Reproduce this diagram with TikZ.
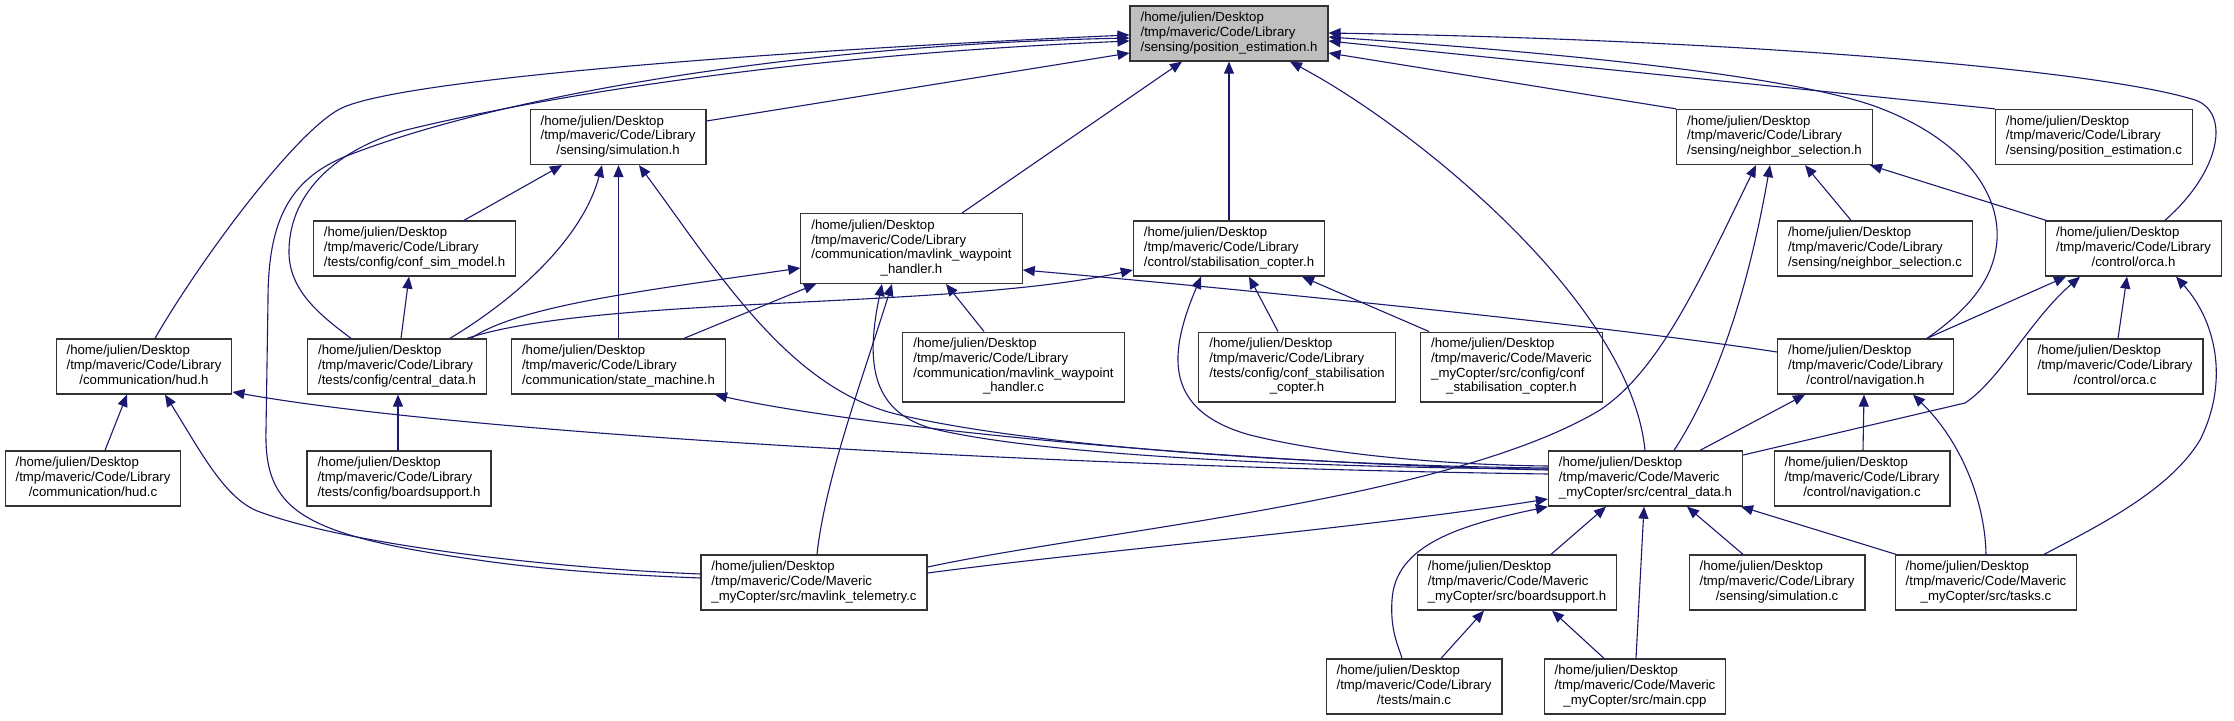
\documentclass[tikz,border=0pt]{standalone}
\usepackage{fontspec}
\setmainfont{Liberation Sans}
\usetikzlibrary{arrows.meta,calc}

\definecolor{edgeblue}{HTML}{191970}
\definecolor{topgray}{HTML}{BFBFBF}
\newcommand{\flab}[2]{\begin{tabular}{@{}l@{}}#1\\\multicolumn{1}{@{}c@{}}{#2}\end{tabular}}
\newcommand{\lib}{/home/julien/Desktop\\/tmp/maveric/Code/Library}
\newcommand{\mav}{/home/julien/Desktop\\/tmp/maveric/Code/Maveric}

\begin{document}
\begin{tikzpicture}[x=1pt,y=-1pt,>={Triangle[length=12pt,width=10pt]},
  file/.style={draw=black!80,line width=1.2pt,fill=white,inner xsep=10.5pt,inner ysep=5.5pt,
    font=\fontsize{13.2}{14.7}\selectfont},
  inc/.style={<-,draw=edgeblue,line width=1.1pt}]
 \path[use as bounding box,fill=white] (0,0) rectangle (2234,720);
 % included file
 \node[file,fill=topgray] (pe_h) at (1229,33.5) {\flab{\lib}{/sensing/position\_estimation.h}};
 % first rank
 \node[file] (sim_h) at (618,137) {\flab{\lib}{/sensing/simulation.h}};
 \node[file] (ns_h) at (1774.5,137) {\flab{\lib}{/sensing/neighbor\_selection.h}};
 \node[file] (pe_c) at (2094,137) {\flab{\lib}{/sensing/position\_estimation.c}};
 % second rank
 \node[file] (csm_h) at (414.5,248.5) {\flab{\lib}{/tests/config/conf\_sim\_model.h}};
 \node[file] (mwh_h) at (911.5,248.5) {\flab{\lib\\/communication/mavlink\_waypoint}{\_handler.h}};
 \node[file] (sc_h) at (1229,248.5) {\flab{\lib}{/control/stabilisation\_copter.h}};
 \node[file] (ns_c) at (1875,248.5) {\flab{\lib}{/sensing/neighbor\_selection.c}};
 \node[file] (orca_h) at (2133.5,248.5) {\flab{\lib}{/control/orca.h}};
 % third rank
 \node[file] (hud_h) at (144,366.5) {\flab{\lib}{/communication/hud.h}};
 \node[file] (cd_t) at (397,366.5) {\flab{\lib}{/tests/config/central\_data.h}};
 \node[file] (sm_h) at (618.5,366.5) {\flab{\lib}{/communication/state\_machine.h}};
 \node[file] (mwh_c) at (1013.5,367) {\flab{\lib\\/communication/mavlink\_waypoint}{\_handler.c}};
 \node[file] (csc_t) at (1297,367) {\flab{\lib\\/tests/config/conf\_stabilisation}{\_copter.h}};
 \node[file] (csc_m) at (1511.5,367) {\flab{\mav\\\_myCopter/src/config/conf}{\_stabilisation\_copter.h}};
 \node[file] (nav_h) at (1865.5,366.5) {\flab{\lib}{/control/navigation.h}};
 \node[file] (orca_c) at (2115,366.5) {\flab{\lib}{/control/orca.c}};
 % fourth rank
 \node[file] (hud_c) at (93,478.5) {\flab{\lib}{/communication/hud.c}};
 \node[file] (bs_t) at (399,478.5) {\flab{\lib}{/tests/config/boardsupport.h}};
 \node[file] (cd_m) at (1645.5,478.5) {\flab{\mav}{\_myCopter/src/central\_data.h}};
 \node[file] (nav_c) at (1862,478.5) {\flab{\lib}{/control/navigation.c}};
 % fifth rank
 \node[file] (mt_c) at (814,582.5) {\flab{\mav}{\_myCopter/src/mavlink\_telemetry.c}};
 \node[file] (bs_m) at (1517,582.5) {\flab{\mav}{\_myCopter/src/boardsupport.h}};
 \node[file] (sim_c) at (1777,582.5) {\flab{\lib}{/sensing/simulation.c}};
 \node[file] (tasks_c) at (1986,582.5) {\flab{\mav}{\_myCopter/src/tasks.c}};
 % sixth rank
 \node[file] (main_c) at (1414,686.5) {\flab{\lib}{/tests/main.c}};
 \node[file] (main_cpp) at (1635,686.5) {\flab{\mav}{\_myCopter/src/main.cpp}};

 % straight includes, bottom of head to top of tail
 \foreach \h/\hx/\t/\tx in {pe_h/1182/mwh_h/962, pe_h/1229/sc_h/1229, sim_h/562/csm_h/464,
   sim_h/618.5/sm_h/618.5, hud_h/127/hud_c/105, cd_t/398/bs_t/398, csm_h/409/cd_t/401,
   mwh_h/816/sm_h/684, mwh_h/946/mwh_c/984, sc_h/1249/csc_t/1278, sc_h/1302/csc_m/1429,
   ns_h/1805/ns_c/1851, ns_h/1870/orca_h/2046, orca_h/2066/nav_h/1927, orca_h/2127/orca_c/2118,
   nav_h/1805/cd_m/1700, nav_h/1864/nav_c/1863, cd_m/1606/bs_m/1551, cd_m/1644/main_cpp/1636,
   cd_m/1687/sim_c/1743, cd_m/1741/tasks_c/1896, bs_m/1484/main_c/1441, bs_m/1552/main_cpp/1604}
   {\draw[inc] (\h.south -| \hx,0) -- (\t.north -| \tx,0);}

 % into position_estimation.h
 \draw[inc] (pe_h.west |- 0,35) .. controls (850,47) and (420,75) .. (344,107) .. controls (300,125) and (200,260) .. (hud_h.north -| 155,0);
 \draw[inc] (pe_h.west |- 0,38) .. controls (800,45) and (500,95) .. (344,157) .. controls (290,180) and (268,220) .. (268,300) -- (266,430) .. controls (264,510) and (300,535) .. (478,560) .. controls (560,572) and (650,576) .. (mt_c.west |- 0,578);
 \draw[inc] (pe_h.west |- 0,41) .. controls (800,55) and (550,95) .. (406,130) .. controls (340,148) and (290,190) .. (289,250) .. controls (288,290) and (320,315) .. (cd_t.north -| 351,0);
 \draw[inc] (pe_h.west |- 0,53) -- (sim_h.east |- 0,121);
 \draw[inc] (pe_h.south -| 1290,0) .. controls (1410,125) and (1630,300) .. (cd_m.north -| 1645,0);
 \draw[inc] (pe_h.east |- 0,53) -- (ns_h.north west);
 \draw[inc] (pe_h.east |- 0,41) -- (pe_c.north west);
 \draw[inc] (pe_h.east |- 0,37) .. controls (1550,52) and (1790,75) .. (1877,107) .. controls (1960,138) and (2000,190) .. (1997,240) .. controls (1994,285) and (1960,315) .. (nav_h.north -| 1927,0);
 \draw[inc] (pe_h.east |- 0,33) .. controls (1750,40) and (2100,70) .. (2195,100) .. controls (2230,112) and (2222,170) .. (orca_h.north -| 2165,0);

 % into simulation.h
 \draw[inc] (sim_h.south -| 602,0) .. controls (585,230) and (530,290) .. (cd_t.north -| 450,0);
 \draw[inc] (sim_h.south -| 639,0) .. controls (720,275) and (790,390) .. (900,415) .. controls (1050,450) and (1350,466) .. (cd_m.west |- 0,468);

 % into hud.h and state_machine.h
 \draw[inc] (hud_h.south -| 165,0) .. controls (200,450) and (225,500) .. (260,512) .. controls (350,545) and (550,568) .. (mt_c.west |- 0,574);
 \draw[inc] (hud_h.east |- 0,392) .. controls (480,436) and (1100,468) .. (cd_m.west |- 0,474);
 \draw[inc] (sm_h.south -| 715,0) .. controls (850,425) and (1200,462) .. (cd_m.west |- 0,470);

 % into mavlink_waypoint_handler.h
 \draw[inc] (mwh_h.west |- 0,268) .. controls (650,290) and (520,305) .. (cd_t.north -| 471,0);
 \draw[inc] (mwh_h.south -| 892,0) .. controls (862,380) and (825,480) .. (mt_c.north -| 817,0);
 \draw[inc] (mwh_h.south -| 882,0) .. controls (866,360) and (870,410) .. (930,428) .. controls (1050,458) and (1350,468) .. (cd_m.west |- 0,469);
 \draw[inc] (mwh_h.east |- 0,270) .. controls (1250,290) and (1600,325) .. (nav_h.west |- 0,352);

 % into stabilisation_copter.h
 \draw[inc] (sc_h.west |- 0,270) .. controls (950,310) and (600,295) .. (cd_t.north -| 467,0);
 \draw[inc] (sc_h.south -| 1201,0) .. controls (1170,350) and (1160,410) .. (1250,435) .. controls (1330,455) and (1450,465) .. (cd_m.west |- 0,466);

 % into neighbor_selection.h
 \draw[inc] (ns_h.south -| 1756,0) .. controls (1700,280) and (1660,370) .. (1600,410) .. controls (1450,500) and (1100,530) .. (mt_c.east |- 0,567);
 \draw[inc] (ns_h.south -| 1770,0) .. controls (1750,280) and (1720,380) .. (cd_m.north -| 1674,0);

 % into orca.h and navigation.h
 \draw[inc] (orca_h.south -| 2080,0) .. controls (2030,320) and (2000,380) .. (1965,403) -- (cd_m.east |- 0,455);
 \draw[inc] (orca_h.south -| 2176,0) .. controls (2215,320) and (2230,380) .. (2200,440) .. controls (2170,490) and (2100,525) .. (tasks_c.north -| 2044,0);
 \draw[inc] (nav_h.south -| 1913,0) .. controls (1960,440) and (1985,500) .. (tasks_c.north -| 1986,0);

 % into Maveric central_data.h
 \draw[inc] (cd_m.west |- 0,499) .. controls (1350,530) and (1100,550) .. (mt_c.east |- 0,573);
 \draw[inc] (cd_m.south west) .. controls (1460,525) and (1395,545) .. (1392,600) .. controls (1390,630) and (1398,645) .. (main_c.north -| 1402,0);
\end{tikzpicture}
\end{document}
